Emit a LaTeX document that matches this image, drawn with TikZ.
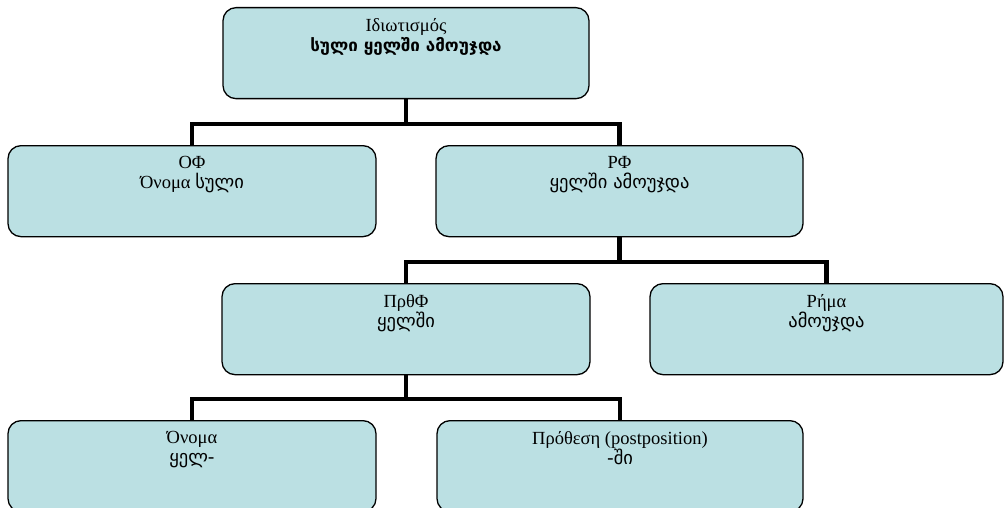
\documentclass[tikz,border=0pt]{standalone}
\usepackage{fontspec}
\setmainfont{Liberation Serif}
\newfontfamily\geo{DejaVu Sans}
\newcommand\geotext[1]{{\geo\fontsize{18.5}{20}\selectfont #1}}
\newcommand\geobold[1]{{\geo\bfseries\fontsize{17}{20}\selectfont #1}}
\begin{document}
\begin{tikzpicture}[x=1pt,y=-1pt,
  box/.style={draw=black, line width=1.3pt, fill=boxfill, rounded corners=13pt,
    minimum width=#1, minimum height=91pt, anchor=north, inner sep=0pt},
  lbl/.style={anchor=north, align=center, inner sep=0pt,
    font=\fontsize{18.5}{20.5}\selectfont},
  conn/.style={draw=black, line width=4.2pt}]
\definecolor{boxfill}{RGB}{187,224,227}
\useasboundingbox (0,0) rectangle (1006,508);
\clip (0,0) rectangle (1006,508);

% tree boxes
\node[box=366pt] (idiom) at (406,7) {};
\node[box=368pt] (of)    at (192,145) {};
\node[box=367pt] (rf)    at (619.5,145) {};
\node[box=368pt] (prthf) at (406,283) {};
\node[box=353pt] (rima)  at (826.5,283) {};
\node[box=368pt] (onoma) at (192,420) {};
\node[box=366pt] (prot)  at (620,420) {};

% box captions
\node[lbl] (tIdiom) at ([yshift=-11pt]idiom.north) {Ιδιωτισμός\\\geobold{სული ყელში ამოუჯდა}};
\node[lbl] (tOf)    at ([yshift=-11pt]of.north)    {ΟΦ\\Όνομα \geotext{სული}};
\node[lbl] (tRf)    at ([yshift=-11pt]rf.north)    {ΡΦ\\\geotext{ყელში ამოუჯდა}};
\node[lbl] (tPrthf) at ([yshift=-11pt]prthf.north) {ΠρθΦ\\\geotext{ყელში}};
\node[lbl] (tRima)  at ([yshift=-11pt]rima.north)  {Ρήμα\\\geotext{ამოუჯდა}};
\node[lbl] (tOnoma) at ([yshift=-11pt]onoma.north) {Όνομα\\\geotext{ყელ-}};
\node[lbl] (tProt)  at ([yshift=-11pt]prot.north)  {Πρόθεση (postposition)\\\geotext{-ში}};

% junctions of the connectors
\coordinate (j1) at (406,124);
\coordinate (j2) at (619.5,262);
\coordinate (j3) at (406,399);

% connectors
\draw[conn] (idiom.south) -- (j1);
\draw[conn] (of.north) |- (j1) -| (rf.north);
\draw[conn] (rf.south) -- (j2);
\draw[conn] (prthf.north) |- (j2) -| (rima.north);
\draw[conn] (prthf.south) -- (j3);
\draw[conn] (onoma.north) |- (j3) -| (prot.north);
\end{tikzpicture}
\end{document}
